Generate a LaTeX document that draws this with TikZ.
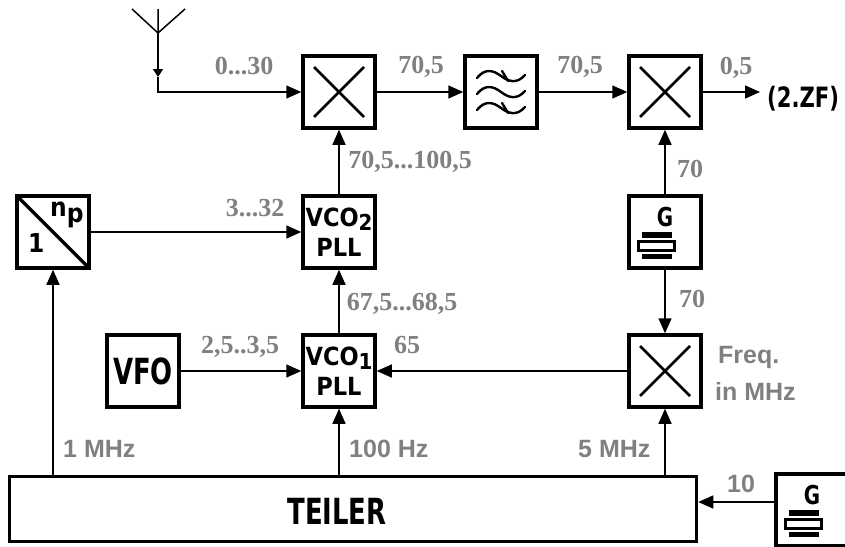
\documentclass[tikz,border=0pt]{standalone}
\usepackage{graphicx}
\usepackage{fontspec}
\setmainfont{Liberation Sans}
\newfontfamily\numfont{Liberation Serif}
\newfontfamily\boxfont{DejaVu Sans Condensed}
\usetikzlibrary{arrows.meta}
\definecolor{lblgray}{RGB}{128,128,128}
\newcommand{\vcoidx}[1]{\raisebox{-4pt}{\fontsize{22}{22}\selectfont#1}}

\tikzset{
  box/.style={draw, line width=3.5pt, minimum width=72pt, minimum height=72pt, inner sep=0pt},
  blk/.style={box, align=center, font=\boxfont\bfseries\fontsize{25}{30}\selectfont},
  bigfont/.style={font=\boxfont\bfseries\fontsize{36}{36}\selectfont},
  mixer/.style={box, path picture={
      \begin{scope}[shift={(path picture bounding box.center)}]
        \draw[line width=2.6pt] (-25,-25) -- (25,25) (-25,25) -- (25,-25);
      \end{scope}}},
  filter/.style={box, path picture={
      \begin{scope}[shift={(path picture bounding box.center)}, line width=2.4pt, line cap=round]
        \foreach \wy in {-16,0,16}
          \draw (-24,\wy+2) .. controls (-16,\wy-8) and (-8,\wy-6) .. (0,\wy)
                .. controls (8,\wy+6) and (16,\wy+8) .. (24,\wy-1);
        \draw (1,-21) -- (7,-11);
        \draw (1,11) -- (7,21);
      \end{scope}}},
  divider/.style={box, path picture={
      \draw[line width=3.5pt] (path picture bounding box.north west) -- (path picture bounding box.south east);}},
  gen/.style={box, text depth=30pt, font=\boxfont\bfseries\fontsize{26}{26}\selectfont, path picture={
      \begin{scope}[shift={(path picture bounding box.center)}]
        \fill (-15,5) rectangle (15,11);
        \draw[line width=3pt] (-18,14.5) rectangle (18,23.5);
        \fill (-15,27) rectangle (15,32);
      \end{scope}}},
  divtxt/.style={anchor=base west, inner sep=0pt, font=\boxfont\bfseries\fontsize{26}{26}\selectfont},
  conn/.style={line width=1.5pt, -{Triangle[length=15pt,width=13pt]}},
  lbl/.style={text=lblgray, inner sep=0pt, anchor=base, font=\numfont\bfseries\fontsize{26}{28}\selectfont},
  slbl/.style={text=lblgray, inner sep=0pt, anchor=base west, font=\bfseries\fontsize{25}{27}\selectfont},
}

\begin{document}
\begin{tikzpicture}[x=1pt, y=-1pt]
  \useasboundingbox (0,0) rectangle (845,546);
  \clip (0,0) rectangle (845,546);

  % Antenne
  \coordinate (ant) at (158,33);
  \coordinate (antarr) at (158,77);
  \draw[line width=1.5pt] (132,9) -- (ant) -- (185,9) (158,9) -- (ant);
  \draw[line width=1.5pt, -{Triangle[length=8pt,width=10pt]}] (ant) -- (antarr);

  % obere Reihe
  \node[mixer] (mix1) at (339,92) {};
  \node[filter] (filt) at (501,92) {};
  \node[mixer] (mix2) at (665,92) {};
  \coordinate (zfout) at (760,92);

  % mittlere Reihe
  \node[divider] (div) at (53,232) {};
  \node[divtxt] (np) at (50,216) {n\raisebox{-6pt}{p}};
  \node[divtxt] (one) at (28,252) {1};
  \node[blk] (vco2) at (339,232) {VCO\vcoidx{2}\\PLL};
  \node[gen] (osc1) at (665,232) {\scalebox{0.85}[1]{G}};

  % untere Reihe
  \node[blk, bigfont] (vfo) at (143,371) {\scalebox{0.8}[1]{VFO}};
  \node[blk] (vco1) at (339,371) {VCO\vcoidx{1}\\PLL};
  \node[mixer] (mix3) at (665,371) {};

  % Teiler und Quarzoszillator
  \node[draw, line width=3.5pt, minimum width=687pt, minimum height=65pt] (teiler) at (353,509) {};
  \node[bigfont, inner sep=0pt] (teilertxt) at (337,511) {\scalebox{0.8}[1]{TEILER}};
  \node[gen] (osc2) at (812,510) {\scalebox{0.85}[1]{G}};

  % Verbindungen
  \draw[conn] (antarr) |- (mix1.west);
  \draw[conn] (mix1) -- (filt);
  \draw[conn] (filt) -- (mix2);
  \draw[conn] (mix2) -- (zfout);
  \draw[conn] (vco2) -- (mix1);
  \draw[conn] (div) -- (vco2);
  \draw[conn] (vco1) -- (vco2);
  \draw[conn] (vfo) -- (vco1);
  \draw[conn] (mix3) -- (vco1);
  \draw[conn] (osc1) -- (mix2);
  \draw[conn] (osc1) -- (mix3);
  \draw[conn] (div.south |- teiler.north) -- (div);
  \draw[conn] (vco1.south |- teiler.north) -- (vco1);
  \draw[conn] (mix3.south |- teiler.north) -- (mix3);
  \draw[conn] ([yshift=8pt]osc2.west) -- ([yshift=8pt]osc2.west -| teiler.east);

  % Frequenzen
  \node[lbl] (f030) at (244,74) {0...30};
  \node[lbl] (f705a) at (421,73) {70,5};
  \node[lbl] (f705b) at (580,73) {70,5};
  \node[lbl] (f05) at (736,74) {0,5};
  \node[anchor=base west, inner sep=0pt, font=\boxfont\bfseries\fontsize{28}{28}\selectfont] (zf) at (767,107) {\scalebox{0.84}[1]{(2.ZF)}};
  \node[lbl] (fvco2) at (410,168) {70,5...100,5};
  \node[lbl] (fdiv) at (255,216) {3...32};
  \node[lbl] (fg1) at (690,177) {70};
  \node[lbl] (fvco1) at (402,310) {67,5...68,5};
  \node[lbl] (fg2) at (692,307) {70};
  \node[lbl] (fvfo) at (240,353) {2,5..3,5};
  \node[lbl] (fmix3) at (407,353) {65};
  \node[slbl] (freq) at (718,363) {Freq.};
  \node[slbl] (unit) at (715,400) {in MHz};
  \node[slbl] (f1m) at (63,457) {1 MHz};
  \node[slbl] (f100) at (349,457) {100 Hz};
  \node[slbl] (f5m) at (578,457) {5 MHz};
  \node[slbl] (f10) at (727,492) {10};
\end{tikzpicture}
\end{document}
